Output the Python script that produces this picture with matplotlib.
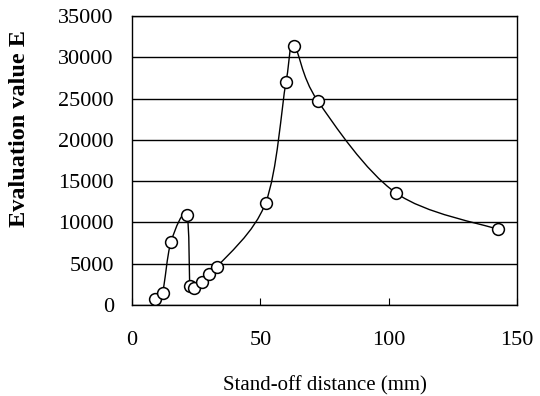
import numpy as np
import matplotlib
matplotlib.use("Agg")
import matplotlib.pyplot as plt
from matplotlib.path import Path
from matplotlib.patches import PathPatch

# Data
distance = [9.0, 11.9, 15.2, 21.3, 22.6, 24.3, 27.1, 30.0, 33.0,
            52.1, 60.0, 63.1, 72.3, 102.7, 142.7]
evaluation = [750, 1500, 7650, 10900, 2300, 2000, 2800, 3750, 4550,
              12400, 27000, 31400, 24750, 13600, 9150]

x_ticks = [0, 50, 100, 150]
y_ticks = [0, 5000, 10000, 15000, 20000, 25000, 30000, 35000]

plt.rcParams['font.family'] = ['Liberation Serif', 'DejaVu Serif']

fig = plt.figure(figsize=(5.4, 3.96), dpi=100)
ax = fig.add_axes([0.2444, 0.2298, 0.713, 0.7298])

# smoothed line like a spreadsheet chart (Bezier through every point)
pts = np.column_stack([distance, evaluation]).astype(float)
verts = [pts[0]]
codes = [Path.MOVETO]
n = len(pts)
for i in range(n - 1):
    p0 = pts[max(i - 1, 0)]
    p1 = pts[i]
    p2 = pts[i + 1]
    p3 = pts[min(i + 2, n - 1)]
    c1 = p1 + (p2 - p0) / 6.0
    c2 = p2 - (p3 - p1) / 6.0
    verts += [c1, c2, p2]
    codes += [Path.CURVE4] * 3
ax.add_patch(PathPatch(Path(verts, codes), facecolor='none',
                       edgecolor='black', lw=1.0, zorder=3))

ax.plot(distance, evaluation, linestyle='none', marker='o', markersize=8.5,
        markerfacecolor='white', markeredgecolor='black',
        markeredgewidth=1.1, zorder=4)

ax.set_xlim(0, 150)
ax.set_ylim(0, 35000)
ax.set_xticks(x_ticks)
ax.set_yticks(y_ticks)
ax.yaxis.grid(True, color='black', linewidth=1.0)
ax.set_axisbelow(True)
for s in ax.spines.values():
    s.set_color('black')
    s.set_linewidth(1.0)

ax.tick_params(axis='x', direction='in', length=5, pad=19, labelsize=16)
ax.tick_params(axis='y', length=0, pad=13, labelsize=16)

ax.set_xlabel('Stand-off distance (mm)', fontsize=15)
ax.xaxis.set_label_coords(0.5, -0.247)
ax.set_ylabel('Evaluation value E', fontsize=17.5, fontweight='bold',
              va='center')
ax.yaxis.set_label_coords(-0.292, 0.609)

fig.savefig('out.png', dpi=100)
